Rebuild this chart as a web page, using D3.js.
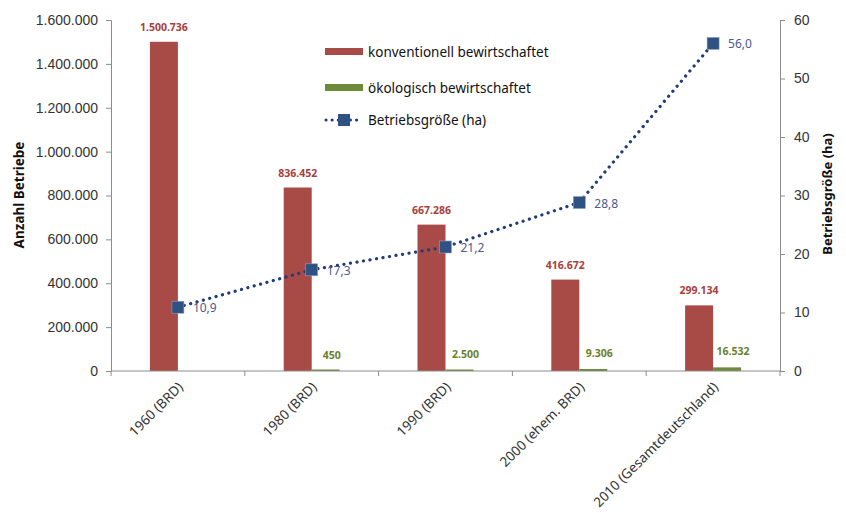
<!DOCTYPE html>
<html>
<head>
<meta charset="utf-8">
<script src="https://cdn.jsdelivr.net/npm/d3@7"></script>
<style>
  body { margin: 0; background: #fff; }
  svg { font-family: "Noto Sans", "Open Sans", sans-serif; }
</style>
</head>
<body>
<div id="chart"></div>
<script>
var categories = ["1960 (BRD)", "1980 (BRD)", "1990 (BRD)", "2000 (ehem. BRD)", "2010 (Gesamtdeutschland)"];
var konventionell = [1500736, 836452, 667286, 416672, 299134];
var oekologisch = [null, 450, 2500, 9306, 16532];
var betriebsgroesse = [10.9, 17.3, 21.2, 28.8, 56.0];
var leftTicks = [0, 200000, 400000, 600000, 800000, 1000000, 1200000, 1400000, 1600000];
var rightTicks = [0, 10, 20, 30, 40, 50, 60];

var de = d3.formatLocale({ decimal: ",", thousands: ".", grouping: [3], currency: ["", " €"] });
var fmtInt = de.format(",d");
var fmtDec = de.format(",.1f");

var svgWidth = 846, svgHeight = 513;
var margin = { top: 20, left: 111, right: 66, bottom: 142 };
var width = svgWidth - margin.left - margin.right;
var height = svgHeight - margin.top - margin.bottom;

var svg = d3.select("#chart").append("svg")
    .attr("width", svgWidth)
    .attr("height", svgHeight);

var g = svg.append("g").attr("transform", `translate(${margin.left}, ${margin.top})`);

var x = d3.scaleBand().domain(categories).range([0, width]);
var yLeft = d3.scaleLinear().domain([0, 1600000]).range([height, 0]);
var yRight = d3.scaleLinear().domain([0, 60]).range([height, 0]);
var barW = 28;

var axisColor = "#8c8c8c";
var textColor = "#333";

// left axis
var la = g.append("g")
    .call(d3.axisLeft(yLeft).tickValues(leftTicks).tickFormat(fmtInt).tickSize(5).tickPadding(8));
la.select(".domain").attr("stroke", axisColor);
la.selectAll(".tick line").attr("stroke", axisColor);
la.selectAll("text").attr("font-size", 14).attr("fill", textColor);

// right axis
var ra = g.append("g")
    .attr("transform", `translate(${width}, 0)`)
    .call(d3.axisRight(yRight).tickValues(rightTicks).tickSize(5).tickPadding(9));
ra.select(".domain").attr("stroke", axisColor);
ra.selectAll(".tick line").attr("stroke", axisColor);
ra.selectAll("text").attr("font-size", 14).attr("fill", textColor);

// bars
var rot = "#a84b47", gruen = "#6d8a3a";

g.selectAll(".bar-k")
    .data(categories)
    .enter().append("rect")
    .attr("x", (d) => x(d) + x.bandwidth() / 2 - barW)
    .attr("y", (d, i) => yLeft(konventionell[i]))
    .attr("width", barW)
    .attr("height", (d, i) => height - yLeft(konventionell[i]))
    .attr("fill", rot);

g.selectAll(".bar-o")
    .data(categories.filter((d, i) => oekologisch[i] != null))
    .enter().append("rect")
    .attr("x", (d) => x(d) + x.bandwidth() / 2)
    .attr("y", (d) => Math.min(height - 1.5, yLeft(oekologisch[categories.indexOf(d)])))
    .attr("width", barW)
    .attr("height", (d) => Math.max(1.5, height - yLeft(oekologisch[categories.indexOf(d)])))
    .attr("fill", gruen);

// bottom axis
var ba = g.append("g")
    .attr("transform", `translate(0, ${height})`);
ba.append("line").attr("x1", 0).attr("x2", width).attr("stroke", axisColor);
ba.selectAll(".tk")
    .data(d3.range(categories.length + 1))
    .enter().append("line")
    .attr("x1", (i) => i * x.bandwidth())
    .attr("x2", (i) => i * x.bandwidth())
    .attr("y1", 0).attr("y2", 5)
    .attr("stroke", axisColor);
ba.selectAll(".xl")
    .data(categories)
    .enter().append("text")
    .attr("transform", (d) => `translate(${x(d) + x.bandwidth() / 2 + 6}, 17) rotate(-45)`)
    .attr("text-anchor", "end")
    .attr("font-size", 13.5)
    .attr("fill", textColor)
    .text((d) => d);

// bar labels
g.selectAll(".lab-k")
    .data(categories)
    .enter().append("text")
    .attr("x", (d) => x(d) + x.bandwidth() / 2 - barW / 2)
    .attr("y", (d, i) => yLeft(konventionell[i]) - 11)
    .attr("text-anchor", "middle")
    .attr("font-size", 10.5)
    .attr("font-weight", "bold")
    .attr("fill", "#a8403c")
    .text((d, i) => fmtInt(konventionell[i]));

g.selectAll(".lab-o")
    .data(categories.filter((d, i) => oekologisch[i] != null))
    .enter().append("text")
    .attr("x", (d) => x(d) + x.bandwidth() / 2 + barW / 2 + 6)
    .attr("y", (d) => yLeft(oekologisch[categories.indexOf(d)]) - 12)
    .attr("text-anchor", "middle")
    .attr("font-size", 10.5)
    .attr("font-weight", "bold")
    .attr("fill", "#6a7f2e")
    .text((d) => fmtInt(oekologisch[categories.indexOf(d)]));

// line
var line = d3.line()
    .x((d, i) => x(categories[i]) + x.bandwidth() / 2)
    .y((d) => yRight(d));

g.append("path")
    .datum(betriebsgroesse)
    .attr("d", line)
    .attr("fill", "none")
    .attr("stroke", "#1f3d7a")
    .attr("stroke-width", 3.2)
    .attr("stroke-linecap", "round")
    .attr("stroke-dasharray", "0.1 6.5");

g.selectAll(".mk")
    .data(betriebsgroesse)
    .enter().append("rect")
    .attr("x", (d, i) => x(categories[i]) + x.bandwidth() / 2 - 6)
    .attr("y", (d) => yRight(d) - 6)
    .attr("width", 12).attr("height", 12)
    .attr("fill", "#2f5283")
    .attr("stroke", "#8ea2c4")
    .attr("stroke-width", 0.6);

g.selectAll(".lab-l")
    .data(betriebsgroesse)
    .enter().append("text")
    .attr("x", (d, i) => x(categories[i]) + x.bandwidth() / 2 + 15)
    .attr("y", (d) => yRight(d) + 5)
    .attr("font-size", 12)
    .attr("fill", "#4e5a8c")
    .text((d) => fmtDec(d));

// axis titles
svg.append("text")
    .attr("transform", "translate(24, 195) rotate(-90)")
    .attr("text-anchor", "middle")
    .attr("font-size", 13.5)
    .attr("font-weight", "bold")
    .attr("fill", "#111")
    .text("Anzahl Betriebe");

svg.append("text")
    .attr("transform", "translate(832, 194) rotate(-90)")
    .attr("text-anchor", "middle")
    .attr("font-size", 13)
    .attr("font-weight", "bold")
    .attr("fill", "#111")
    .text("Betriebsgröße (ha)");

// legend
var legend = svg.append("g").attr("transform", "translate(325, 52)");
legend.append("rect").attr("x", 0).attr("y", -4).attr("width", 38).attr("height", 7).attr("fill", rot);
legend.append("text").attr("x", 43).attr("y", 5).attr("font-size", 13.5).attr("fill", "#111").text("konventionell bewirtschaftet");
legend.append("rect").attr("x", 0).attr("y", 32).attr("width", 38).attr("height", 7).attr("fill", gruen);
legend.append("text").attr("x", 43).attr("y", 41).attr("font-size", 13.5).attr("fill", "#111").text("ökologisch bewirtschaftet");
legend.append("line").attr("x1", 1).attr("x2", 37).attr("y1", 68).attr("y2", 68)
    .attr("stroke", "#1f3d7a").attr("stroke-width", 3).attr("stroke-linecap", "round").attr("stroke-dasharray", "0.1 6");
legend.append("rect").attr("x", 13).attr("y", 62).attr("width", 12).attr("height", 12).attr("fill", "#2f5283");
legend.append("text").attr("x", 43).attr("y", 73).attr("font-size", 13.5).attr("fill", "#111").text("Betriebsgröße (ha)");
</script>
</body>
</html>
